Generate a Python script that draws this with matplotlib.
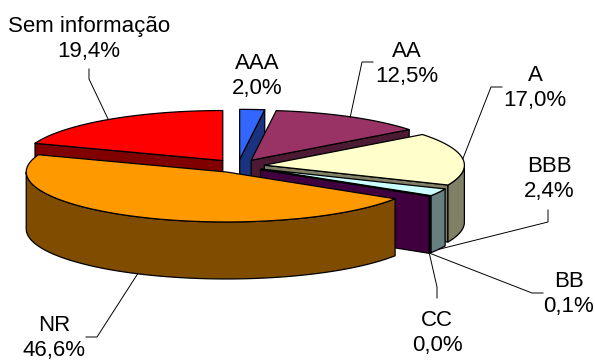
import numpy as np
import matplotlib.pyplot as plt
from matplotlib.patches import Polygon
from matplotlib.colors import to_rgb

# rating distribution (%), clockwise from 12 o'clock
ratings = ['AAA', 'AA', 'A', 'BBB', 'BB', 'CC', 'NR', 'Sem informação']
shares = [2.0, 12.5, 17.0, 2.4, 0.1, 0.0, 46.6, 19.4]

face_colors = ['#3366FF', '#993366', '#FFFFCC', '#CCFFFF', '#800080',
               '#FF8080', '#FF9900', '#FF0000']

# label centre and leader elbow (pixel coords), None = no leader
label_pos = {
    'AAA': ((257, 76), None),
    'AA': ((407, 64), [(373, 62), (362, 62)]),
    'A': ((535, 88), [(502, 87), (491, 87)]),
    'BBB': ((549, 179), [(548, 210), (548, 222)]),
    'BB': ((569, 294), [(543, 293), (532, 293)]),
    'CC': ((437, 333), [(437, 298), (437, 287)]),
    'NR': ((54, 338), [(86, 337), (97, 337)]),
    'Sem informação': ((89, 39), [(89, 69), (89, 79)]),
}

# projected pie geometry (pixels)
cx, cy = 238, 166
a, b = 200, 50       # ellipse semi-axes
h = 57               # thickness
explode = 0.133

plt.rcParams['font.family'] = ['Liberation Sans', 'DejaVu Sans']
fig = plt.figure(figsize=(5.95, 3.6), dpi=100)
ax = fig.add_axes([0, 0, 1, 1])
ax.set_xlim(0, 595)
ax.set_ylim(360, 0)
ax.axis('off')


def rim(t, ox, oy, z=0.0, r=1.0):
    t = np.radians(t)
    return cx + ox + a * r * np.sin(t), cy + oy - b * r * np.cos(t) + z


def shade(c):
    return tuple(0.5 * v for v in to_rgb(c))


def poly(pts, color):
    ax.add_patch(Polygon(pts, closed=True, facecolor=color,
                         edgecolor='black', linewidth=0.9, joinstyle='round'))


# slice angles
edges = np.concatenate([[0], np.cumsum(shares)]) * 3.6
slices = []
for i, name in enumerate(ratings):
    t1, t2 = edges[i], edges[i + 1]
    mid = 0.5 * (t1 + t2)
    ox = explode * a * np.sin(np.radians(mid))
    oy = -explode * b * np.cos(np.radians(mid))
    slices.append((name, shares[i], t1, t2, mid, ox, oy, face_colors[i]))

# back to front
for name, v, t1, t2, mid, ox, oy, col in sorted(slices, key=lambda s: -np.cos(np.radians(s[4]))):
    if v <= 0:
        continue
    side = shade(col)
    apex = (cx + ox, cy + oy)
    apex_low = (cx + ox, cy + oy + h)
    # radial faces
    if np.sin(np.radians(t1)) < -1e-9:
        poly([apex, rim(t1, ox, oy), rim(t1, ox, oy, h), apex_low], side)
    if np.sin(np.radians(t2)) > 1e-9:
        poly([apex, rim(t2, ox, oy), rim(t2, ox, oy, h), apex_low], side)
    # outer wall, front half only
    w1, w2 = max(t1, 90), min(t2, 270)
    if w2 > w1:
        tt = np.linspace(w1, w2, 80)
        upper = [rim(t, ox, oy) for t in tt]
        lower = [rim(t, ox, oy, h) for t in tt[::-1]]
        poly(upper + lower, side)
    # top
    tt = np.linspace(t1, t2, max(3, int((t2 - t1) * 2)))
    poly([apex] + [rim(t, ox, oy) for t in tt], col)

# labels and leader lines
for name, v, t1, t2, mid, ox, oy, col in slices:
    (tx, ty), elbow = label_pos[name]
    txt = name + '\n' + ('%.1f' % v).replace('.', ',') + '%'
    ax.text(tx, ty, txt, ha='center', va='center', fontsize=16,
            linespacing=1.25, color='black')
    if elbow:
        z = h if np.cos(np.radians(mid)) < 0 else 0
        end = rim(mid, ox, oy, z)
        xs = [p[0] for p in elbow] + [end[0]]
        ys = [p[1] for p in elbow] + [end[1]]
        ax.plot(xs, ys, color='black', linewidth=0.7)

fig.savefig('out.png', dpi=100)
